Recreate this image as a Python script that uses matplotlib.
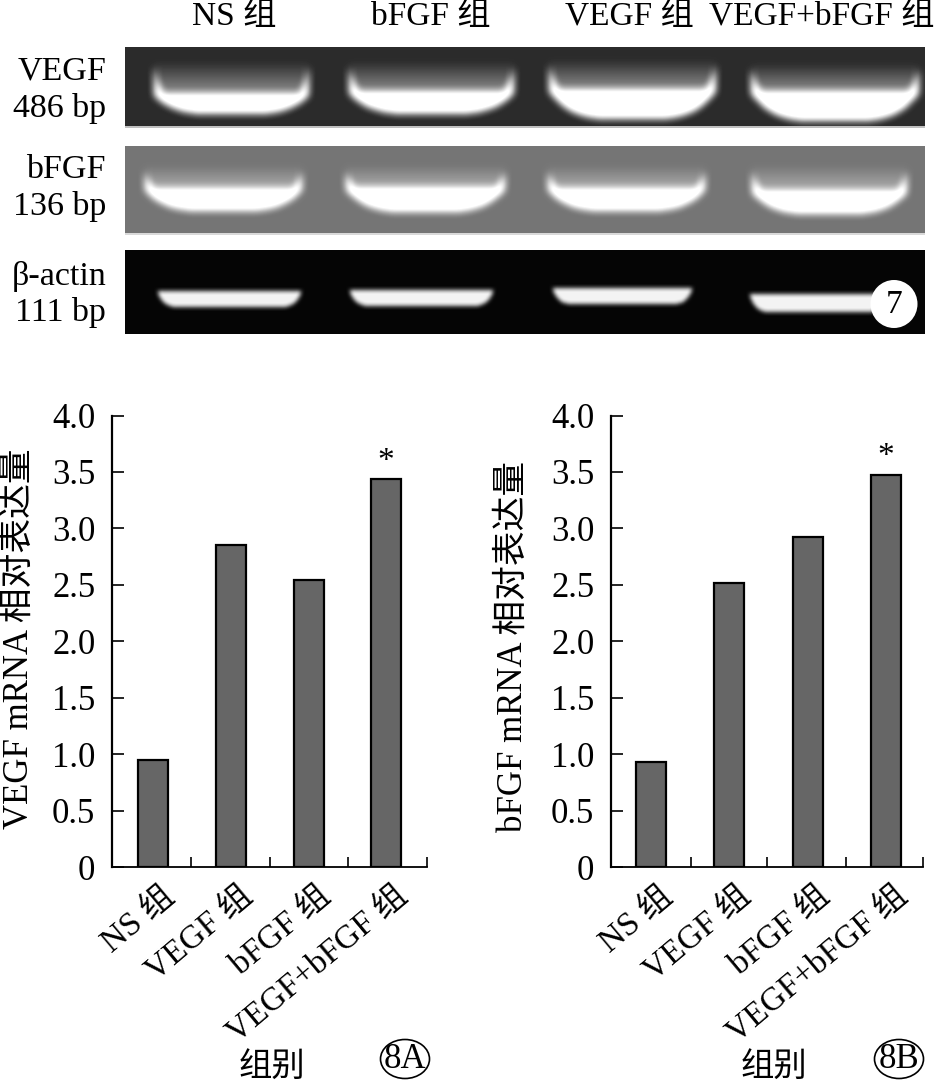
# -*- coding: utf-8 -*-
import numpy as np
import matplotlib
matplotlib.use('Agg')
import matplotlib.pyplot as plt
from matplotlib.patches import Ellipse

plt.rcParams['font.family'] = ['Liberation Serif', 'Noto Sans CJK SC']

W, H = 938, 1083

groups = ['NS 组', 'VEGF 组', 'bFGF 组', 'VEGF+bFGF 组']
gel_groups = ['NS 组', 'bFGF 组', 'VEGF 组', 'VEGF+bFGF 组']
vegf_values = [0.95, 2.85, 2.54, 3.44]
bfgf_values = [0.93, 2.52, 2.92, 3.47]
y_ticks = [0, 0.5, 1.0, 1.5, 2.0, 2.5, 3.0, 3.5, 4.0]
y_tick_labels = ['0', '0.5', '1.0', '1.5', '2.0', '2.5', '3.0', '3.5', '4.0']


def box_blur(img, k):
    kernel = np.ones(k) / k
    pad = k
    out = np.pad(img, pad, mode='edge')
    out = np.apply_along_axis(lambda r: np.convolve(r, kernel, mode='same'), 0, out)
    out = np.apply_along_axis(lambda r: np.convolve(r, kernel, mode='same'), 1, out)
    return out[pad:-pad, pad:-pad]


def draw_gel(box, bg, bands, glow, blur, level=1.0, curve=4, base=None):
    # bands: x0, x1, arm top, inner top, bottom (figure pixels)
    x0, y0, x1, y1 = box
    xs, ys = np.meshgrid(np.arange(x0, x1), np.arange(y0, y1))
    img = np.full(xs.shape, bg, dtype=float)
    for bx0, bx1, arm, inner, bottom in bands:
        cx = (bx0 + bx1) / 2
        u = (xs - cx) / ((bx1 - bx0) / 2)
        inside = np.abs(u) <= 1
        edge = bottom - (bottom - (inner + 2)) * np.abs(u) ** curve
        top = inner - (inner - arm) * np.clip((np.abs(u) - 0.84) / 0.16, 0, 1) ** 2
        # faint haze above the band
        if glow > 0:
            haze = np.clip((ys - (arm - 8)) / (inner - arm + 8), 0, 1) * glow
            img = np.where(inside & (ys < top), np.maximum(img, bg + haze), img)
        img = np.where(inside & (ys >= top) & (ys <= edge + 0.99), level, img)
    for _ in range(2):
        img = box_blur(img, blur)
    # overexposed core, then the pale rim left along the bottom of the scan
    img = np.clip(img * 1.12, 0, 1)
    if base is not None:
        img[-2:, :] = base
    ax = fig.add_axes([x0 / W, 1 - y1 / H, (x1 - x0) / W, (y1 - y0) / H])
    ax.imshow(img, cmap='gray', vmin=0, vmax=1, aspect='auto', interpolation='bilinear')
    ax.axis('off')


def bar_panel(left, right, centers, edges, values, ylabel, ylabel_x, ylabel_y, star_y, xlabel_x, badge, badge_x):
    top, bottom = 415.5, 867
    ax = fig.add_axes([left / W, 1 - bottom / H, (right - left) / W, (bottom - top) / H])
    ax.set_xlim(left, right)
    ax.set_ylim(0, 4.0)
    ax.patch.set_alpha(0)
    ax.bar(centers, values, width=30, color='#666666', edgecolor='black', linewidth=1.6, zorder=3)
    for s in ['top', 'right']:
        ax.spines[s].set_visible(False)
    ax.spines['left'].set_linewidth(1.6)
    ax.spines['bottom'].set_linewidth(1.3)
    ax.set_yticks(y_ticks)
    ax.set_yticklabels(y_tick_labels, fontsize=25)
    ax.tick_params(axis='y', direction='in', length=8.5, width=1.2, pad=12)
    ax.set_xticks(edges)
    ax.set_xticklabels([])
    ax.tick_params(axis='x', direction='in', length=7, width=1.2)
    for c, label in zip(centers, groups):
        ov.text(c + 8, 881, label, rotation=40, rotation_mode='anchor',
                ha='right', va='top', fontsize=24)
    ov.text(ylabel_x, ylabel_y, ylabel, rotation=90, ha='center', va='center', fontsize=25)
    ov.text(centers[3], star_y, '*', ha='center', va='center', fontsize=24)
    ov.text(xlabel_x, 1067, '组别', ha='center', va='center', fontsize=24)
    ov.add_patch(Ellipse((badge_x, 1059), 49, 39, facecolor='none', edgecolor='black', linewidth=1.2))
    ov.text(badge_x, 1059, badge, ha='center', va='center', fontsize=25)


fig = plt.figure(figsize=(W / 100, H / 100), dpi=100)

ov = fig.add_axes([0, 0, 1, 1], zorder=10)
ov.set_xlim(0, W)
ov.set_ylim(H, 0)
ov.axis('off')

draw_gel((125, 47, 925, 128), 0.15,
         [(153, 307, 68, 92, 112), (348, 512, 68, 90, 112),
          (548, 714, 66, 88, 117), (750, 917, 70, 90, 119)], 0.35, 8, base=0.75)
draw_gel((125, 146, 925, 235), 0.41,
         [(144, 300, 172, 187, 209), (345, 503, 172, 186, 210),
          (547, 703, 172, 187, 209), (751, 905, 172, 189, 212)], 0.2, 8, base=0.85)
draw_gel((125, 250, 925, 334), 0.02,
         [(158, 300, 291, 291, 306), (350, 492, 290, 290, 305),
          (553, 691, 288, 288, 303), (750, 886, 294, 294, 311)], 0, 5, level=0.85, curve=12)

for x, label in zip([234, 431, 629, 822], gel_groups):
    ov.text(x, 17, label, ha='center', va='center', fontsize=24)
for y, label in [(71, 'VEGF'), (108, '486 bp'), (170, 'bFGF'), (207, '136 bp'),
                 (277, 'β-actin'), (313, '111 bp')]:
    ov.text(106, y, label, ha='right', va='center', fontsize=24.5)

ov.add_patch(Ellipse((894, 304), 47, 48, facecolor='white', edgecolor='none'))
ov.text(894, 305, '7', ha='center', va='center', fontsize=24)

bar_panel(112, 427, [153, 231, 309, 386], [191, 270, 348, 427], vegf_values,
          'VEGF mRNA 相对表达量', 19, 639, 462, 272, '8A', 405)
bar_panel(611, 923, [651, 729, 808, 886], [691, 767, 846, 923], bfgf_values,
          'bFGF mRNA 相对表达量', 513, 646, 457, 774, '8B', 899)

fig.savefig('out.png', dpi=100)
